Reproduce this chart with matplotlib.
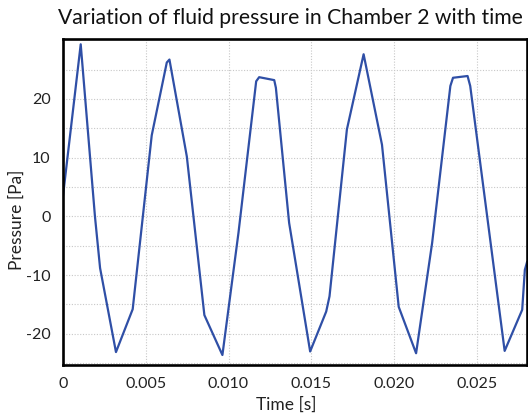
import matplotlib.pyplot as plt
from matplotlib.ticker import MultipleLocator, FixedLocator

plt.rcParams['font.family'] = ['Lato', 'DejaVu Sans']

# values
time_s = [0.0, 0.00107, 0.00193, 0.00224, 0.00320, 0.00421, 0.00536, 0.00627,
          0.00643, 0.00748, 0.00854, 0.00963, 0.01060, 0.01167, 0.01185, 0.01276,
          0.01286, 0.01366, 0.01493, 0.01590, 0.01610, 0.01715, 0.01816, 0.01927,
          0.02028, 0.02133, 0.02230, 0.02340, 0.02356, 0.02444, 0.02460, 0.02668,
          0.02774, 0.02790, 0.02803]
pressure_pa = [3.5, 29.3, 0.0, -8.8, -23.1, -15.8, 13.8, 26.2,
               26.7, 10.2, -16.8, -23.6, -2.8, 23.0, 23.7, 23.2,
               21.9, -1.1, -23.0, -16.2, -13.6, 14.8, 27.6, 12.2,
               -15.4, -23.3, -4.5, 22.2, 23.6, 23.9, 22.2, -22.9,
               -15.9, -9.1, -7.8]

x_ticks = [0, 0.005, 0.010, 0.015, 0.020, 0.025]
x_labels = ['0', '0.005', '0.010', '0.015', '0.020', '0.025']
y_ticks = [-20, -10, 0, 10, 20]
y_labels = ['-20', '-10', '0', '10', '20']

fig = plt.figure(figsize=(5.28, 4.16), dpi=100)
ax = fig.add_axes([63 / 528, 1 - 365 / 416, 464 / 528, 326 / 416])

ax.plot(time_s, pressure_pa, color='#2f4fa6', linewidth=1.6)

ax.set_xticks(x_ticks)
ax.set_xticklabels(x_labels)
ax.set_yticks(y_ticks)
ax.set_yticklabels(y_labels)
ax.yaxis.set_minor_locator(FixedLocator([-25, -15, -5, 5, 15, 25]))

ax.set_xlim(0, 0.02803)
ax.set_ylim(-25.3, 30.2)

ax.grid(True, which='major', axis='x', color='#c8c8c8', linestyle=(0, (1, 1.5)), linewidth=0.8)
ax.grid(True, which='both', axis='y', color='#c8c8c8', linestyle=(0, (1, 1.5)), linewidth=0.8)
ax.set_axisbelow(True)

ax.tick_params(which='both', length=0, labelsize=11.5, colors='#222222')
ax.tick_params(axis='x', pad=9)
ax.tick_params(axis='y', pad=9)

for s in ax.spines.values():
    s.set_linewidth(1.9)
    s.set_color('black')

ax.set_xlabel('Time [s]', fontsize=12.5, color='#222222')
ax.set_ylabel('Pressure [Pa]', fontsize=12.5, color='#222222')
ax.xaxis.set_label_coords(0.482, -0.098)
ax.yaxis.set_label_coords(-0.082, 0.445)

fig.text(290.5 / 528, 1 - 18 / 416, 'Variation of fluid pressure in Chamber 2 with time',
         ha='center', va='center', fontsize=15.2, color='#111111')

fig.savefig('out.png', dpi=100)
